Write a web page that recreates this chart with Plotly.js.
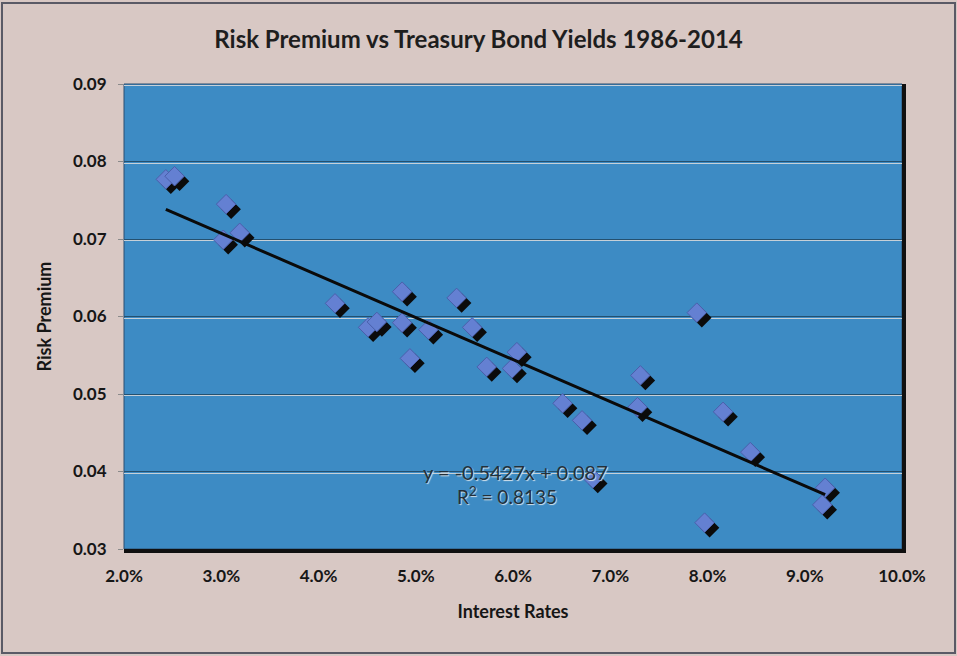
<!DOCTYPE html>
<html>
<head>
<meta charset="utf-8">
<script src="https://cdn.plot.ly/plotly-3.0.1.min.js"></script>
<style>html,body{margin:0;padding:0;background:#d8c8c4;}#chart{width:957px;height:656px;}</style>
</head>
<body>
<div id="chart"></div>
<script>
// Data
const interestRates = [0.0243,0.0252,0.0305,0.0302,0.0319,0.0417,0.0486,0.0542,0.0451,0.0460,0.0486,0.0513,0.0558,0.0494,0.0573,0.0604,0.0599,0.0731,0.0651,0.0671,0.0728,0.0789,0.0816,0.0844,0.0921,0.0918,0.0797,0.0682];
const riskPremium   = [0.0777,0.0781,0.0745,0.0699,0.0708,0.0617,0.0632,0.0624,0.0586,0.0593,0.0592,0.0583,0.0586,0.0546,0.0535,0.0554,0.0533,0.0524,0.0488,0.0466,0.0483,0.0605,0.0477,0.0425,0.0379,0.0357,0.0334,0.0391];
const trendSlope = -0.5427;
const trendIntercept = 0.087;
const trendR2 = 0.8135;
const chartTitle = 'Risk Premium vs Treasury Bond Yields 1986-2014';
const xTitle = 'Interest Rates';
const yTitle = 'Risk Premium';

const xRange = [0.02, 0.10];
const yRange = [0.03, 0.09];

// plot geometry (pixels)
const W = 957, H = 656, ML = 124, MR = 55, MT = 84, MB = 107;
const PW = W - ML - MR, PH = H - MT - MB;
const pxX = (xRange[1]-xRange[0]) / PW;
const pxY = (yRange[1]-yRange[0]) / PH;
const shadowDX = 5, shadowDY = 5, gridDY = 1.5;

const xmin = Math.min(...interestRates), xmax = Math.max(...interestRates);
const trendX = [xmin, xmax];
const trendY = trendX.map(v => trendSlope*v + trendIntercept);

const FONT = 'Lato, "Open Sans", sans-serif';

const carrier = (xa, ya) => ({
  x: interestRates, y: riskPremium, xaxis: xa, yaxis: ya,
  type: 'scatter', mode: 'markers', hoverinfo: 'skip', marker: {opacity: 0, size: 1}
});

const traces = [
  carrier('x', 'y'),     // base axes: dark grid, ticks, titles
  carrier('x4', 'y4'),   // light grid highlight
  { // marker shadows
    x: interestRates, y: riskPremium, xaxis: 'x2', yaxis: 'y2',
    type: 'scatter', mode: 'markers', hoverinfo: 'skip',
    marker: {symbol: 'diamond', size: 15, color: '#0b0b0b'}
  },
  { // markers
    x: interestRates, y: riskPremium, xaxis: 'x3', yaxis: 'y3',
    type: 'scatter', mode: 'markers', name: 'Risk Premium',
    marker: {symbol: 'diamond', size: 15, color: '#6480d2', line: {width: 1, color: '#4a5fab'}}
  },
  { // trendline
    x: trendX, y: trendY, xaxis: 'x3', yaxis: 'y3',
    type: 'scatter', mode: 'lines', name: 'Linear trend',
    line: {color: '#0a0a0a', width: 3}
  }
];

const hidden = {visible: false, fixedrange: true};
const tickFont = {size: 17, family: FONT, color: '#161616', weight: 'bold'};
const layout = {
  width: W, height: H, autosize: false,
  margin: {l: ML, r: MR, t: MT, b: MB},
  paper_bgcolor: '#d8c8c4',
  plot_bgcolor: 'rgba(0,0,0,0)',
  showlegend: false,
  font: {family: FONT, color: '#1a1a1a'},
  title: {text: chartTitle, x: 0.5, xref: 'container', y: 1 - 40/H, yref: 'container', yanchor: 'middle',
          font: {size: 24, family: FONT, color: '#1e1e1e', weight: 'bold'}},
  xaxis: {range: xRange, dtick: 0.01, tick0: 0.02, tickformat: '.1%', showgrid: false, zeroline: false,
          showline: false, ticks: 'outside', ticklen: 12, tickcolor: 'rgba(0,0,0,0)',
          tickfont: tickFont,
          title: {text: xTitle, font: {size: 18, family: FONT, color: '#161616', weight: 'bold'}, standoff: 19}},
  yaxis: {range: yRange, dtick: 0.01, tick0: 0.03, tickformat: '.2f', showgrid: true,
          gridcolor: '#24506f', gridwidth: 1, zeroline: false, showline: false,
          ticks: 'outside', ticklen: 5, tickcolor: '#8a8a8a', ticklabelstandoff: 8,
          tickfont: tickFont,
          title: {text: yTitle, font: {size: 18, family: FONT, color: '#161616', weight: 'bold'}, standoff: 16}},
  xaxis4: {overlaying: 'x', anchor: 'y4', range: xRange, showgrid: false, showticklabels: false, zeroline: false, ticks: '', fixedrange: true},
  yaxis4: {overlaying: 'y', anchor: 'x4', range: [yRange[0] + gridDY*pxY, yRange[1] + gridDY*pxY], dtick: 0.01, tick0: 0.03,
           showgrid: true, gridcolor: '#c6d0d8', gridwidth: 1, showticklabels: false, ticks: '', zeroline: false, fixedrange: true},
  xaxis2: Object.assign({overlaying: 'x', anchor: 'y2', range: [xRange[0] - shadowDX*pxX, xRange[1] - shadowDX*pxX]}, hidden),
  yaxis2: Object.assign({overlaying: 'y', anchor: 'x2', range: [yRange[0] + shadowDY*pxY, yRange[1] + shadowDY*pxY]}, hidden),
  xaxis3: Object.assign({overlaying: 'x', anchor: 'y3', range: xRange}, hidden),
  yaxis3: Object.assign({overlaying: 'y', anchor: 'x3', range: yRange}, hidden),
  shapes: [
    // plot area background
    {type: 'rect', xref: 'paper', yref: 'paper', x0: 0, x1: 1, y0: 0, y1: 1, layer: 'below',
     fillcolor: '#3d8bc4', line: {color: '#2c4f70', width: 1}},
    // thick dark edges (right / bottom)
    {type: 'line', xref: 'paper', yref: 'paper', x0: 1 + 2/PW, x1: 1 + 2/PW, y0: -3/PH, y1: 1, line: {color: '#101010', width: 4}},
    {type: 'line', xref: 'paper', yref: 'paper', x0: 0, x1: 1 + 4/PW, y0: -2/PH, y1: -2/PH, line: {color: '#101010', width: 4}},
    // outer chart frame
    {type: 'rect', xref: 'paper', yref: 'paper', x0: (2-ML)/PW, x1: (W-2-ML)/PW, y0: (MT+PH-(H-3))/PH, y1: (MT+PH-3)/PH,
     layer: 'below', line: {color: '#5a5a66', width: 2}}
  ],
  annotations: [
    {xref: 'paper', yref: 'paper', x: (515-ML)/PW, y: (MT+PH-486)/PH, showarrow: false,
     text: 'y = -0.5427x + 0.087', font: {size: 20, family: FONT, color: '#22303a', shadow: '1px 1px 1px #d8e4ec'}},
    {xref: 'paper', yref: 'paper', x: (507-ML)/PW, y: (MT+PH-510)/PH, showarrow: false,
     text: 'R<sup>2</sup> = ' + trendR2, font: {size: 19, family: FONT, color: '#22303a', shadow: '1px 1px 1px #d8e4ec'}}
  ]
};

Plotly.newPlot('chart', traces, layout, {displayModeBar: false, staticPlot: true});
</script>
</body>
</html>
